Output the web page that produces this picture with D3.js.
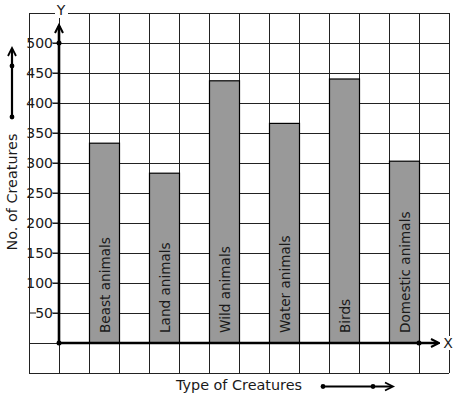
<!DOCTYPE html>
<html><head><meta charset="utf-8">
<script src="https://cdn.jsdelivr.net/npm/d3@7"></script>
<style>body{margin:0;background:#fff}svg{display:block}text{font-family:"DejaVu Sans",sans-serif}</style>
</head><body><svg id="c" width="457" height="399"></svg>
<script>
const categories = ["Beast animals","Land animals","Wild animals","Water animals","Birds","Domestic animals"];
const values = [333, 283, 437, 366, 440, 303];
const yTicks = [50,100,150,200,250,300,350,400,450,500];
const xTitle = "Type of Creatures";
const yTitle = "No. of Creatures";

const svg = d3.select("#c");
const y = d3.scaleLinear().domain([0,500]).range([343,43]);
const x = d3.scaleBand().domain(categories).range([74,434]).paddingInner(0.5).paddingOuter(0.25);
const col = d3.scaleLinear().domain([-1,13]).range([29,449]);
const ink = "#1a1a1a";

// grid
const g = svg.append("g").attr("stroke", "#222").attr("stroke-width",1).attr("shape-rendering","crispEdges");
d3.range(-50,551,50).forEach(v=>{
  g.append("line").attr("x1",col(-1)).attr("x2",col(13)).attr("y1",Math.round(y(v))+0.5).attr("y2",Math.round(y(v))+0.5);
});
d3.range(-1,14,1).forEach(c=>{
  g.append("line").attr("x1",col(c)+0.5).attr("x2",col(c)+0.5).attr("y1",y(550)).attr("y2",y(-50));
});

// bars
svg.append("g").selectAll("rect").data(categories).join("rect")
  .attr("x",d=>x(d)+0.5).attr("width",x.bandwidth())
  .attr("y",(d,i)=>y(values[i])).attr("height",(d,i)=>y(0)-y(values[i]))
  .attr("fill","#999").attr("stroke","#000").attr("stroke-width",1.2);

// bar labels
svg.append("g").selectAll("text").data(categories).join("text")
  .attr("transform",d=>`translate(${x(d)+x.bandwidth()/2+1},${y(0)-10}) rotate(-90)`)
  .attr("dominant-baseline","central").attr("font-size",13.6).attr("fill",ink).text(d=>d);

// y tick labels with white backing
const tl = svg.append("g");
yTicks.forEach(v=>{
  const yy = y(v);
  tl.append("rect").attr("x",30).attr("y",yy-7.5).attr("width",23).attr("height",15).attr("fill","#fff");
  tl.append("text").attr("x",53).attr("y",yy).attr("text-anchor","end").attr("dominant-baseline","central")
    .attr("font-size",14).attr("fill",ink).text(v);
  tl.append("line").attr("x1",52).attr("x2",59).attr("y1",yy).attr("y2",yy).attr("stroke",ink).attr("stroke-width",1);
});
tl.append("line").attr("x1",30).attr("x2",36).attr("y1",y(50)).attr("y2",y(50)).attr("stroke",ink).attr("stroke-width",1);

// axes
const ax = svg.append("g").attr("stroke","#000").attr("fill","none").attr("stroke-width",2.6);
ax.append("line").attr("x1",col(0)).attr("x2",col(0)).attr("y1",y(0)).attr("y2",26);
ax.append("path").attr("d",`M${col(0)-4},33 L${col(0)},25 L${col(0)+4},33`).attr("stroke-width",2);
ax.append("line").attr("x1",col(0)).attr("x2",438).attr("y1",y(0)).attr("y2",y(0));
ax.append("path").attr("d",`M431,${y(0)-4} L439,${y(0)} L431,${y(0)+4}`).attr("stroke-width",2);
[[col(0),y(0)],[col(0),y(500)],[col(12),y(0)]].forEach(p=>svg.append("circle").attr("cx",p[0]).attr("cy",p[1]).attr("r",2.5).attr("fill","#000"));

// axis letters
svg.append("rect").attr("x",55).attr("y",4).attr("width",13).attr("height",14).attr("fill","#fff");
svg.append("text").attr("x",61).attr("y",10).attr("text-anchor","middle").attr("dominant-baseline","central").attr("font-size",14).attr("fill",ink).text("Y");
svg.append("rect").attr("x",440).attr("y",y(0)-7).attr("width",13).attr("height",14).attr("fill","#fff");
svg.append("text").attr("x",448).attr("y",y(0)).attr("text-anchor","middle").attr("dominant-baseline","central").attr("font-size",14).attr("fill",ink).text("X");

// titles
svg.append("text").attr("x",239).attr("y",385).attr("text-anchor","middle").attr("dominant-baseline","central").attr("font-size",14.4).attr("fill",ink).text(xTitle);
svg.append("text").attr("transform","translate(12,192) rotate(-90)").attr("text-anchor","middle").attr("dominant-baseline","central").attr("font-size",14.4).attr("fill",ink).text(yTitle);

// decorative direction arrows
const da = svg.append("g").attr("stroke","#000").attr("fill","none").attr("stroke-width",2.2);
da.append("line").attr("x1",12).attr("x2",12).attr("y1",117).attr("y2",49);
da.append("path").attr("d","M8,56 L12,48 L16,56").attr("stroke-width",1.8);
da.append("line").attr("x1",323).attr("x2",392).attr("y1",386.5).attr("y2",386.5);
da.append("path").attr("d","M385,382.5 L393,386.5 L385,390.5").attr("stroke-width",1.8);
[[12,117],[12,66],[323,386.5],[373,386.5]].forEach(p=>svg.append("circle").attr("cx",p[0]).attr("cy",p[1]).attr("r",2.4).attr("fill","#000"));
</script></body></html>
